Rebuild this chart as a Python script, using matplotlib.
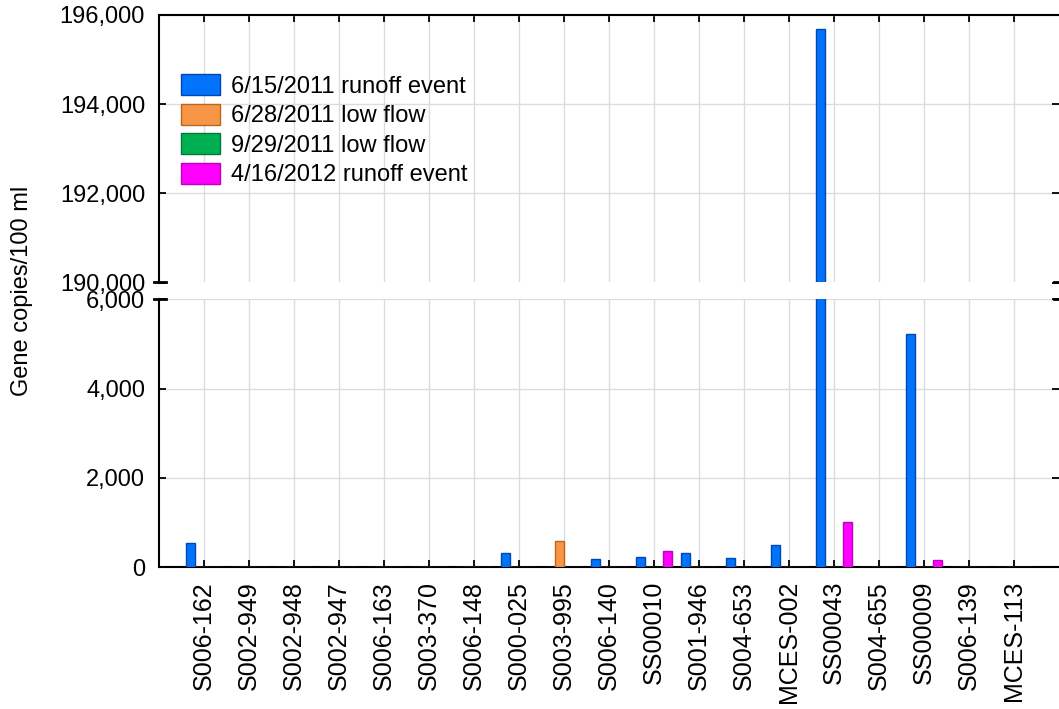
import numpy as np
import matplotlib
matplotlib.use("Agg")
import matplotlib.pyplot as plt
from matplotlib.ticker import FuncFormatter

plt.rcParams['font.family'] = ['Liberation Sans', 'DejaVu Sans']

sites = ['S006-162', 'S002-949', 'S002-948', 'S002-947', 'S006-163', 'S003-370',
         'S006-148', 'S000-025', 'S003-995', 'S006-140', 'SS00010', 'S001-946',
         'S004-653', 'MCES-002', 'SS00043', 'S004-655', 'SS00009', 'S006-139',
         'MCES-113']
runoff_2011 = [530, 0, 0, 0, 0, 0, 0, 310, 0, 170, 220, 315, 195, 490, 195690, 0, 5230, 0, 0]
lowflow_jun = [0, 0, 0, 0, 0, 0, 0, 0, 580, 0, 0, 0, 0, 0, 0, 0, 0, 0, 0]
lowflow_sep = [0, 0, 0, 0, 0, 0, 0, 0, 0, 0, 0, 0, 0, 0, 0, 0, 0, 0, 0]
runoff_2012 = [0, 0, 0, 0, 0, 0, 0, 0, 0, 0, 360, 0, 0, 0, 1000, 0, 165, 0, 0]

series = [
    ('6/15/2011 runoff event', runoff_2011, '#0073fa', '#0046b4'),
    ('6/28/2011 low flow', lowflow_jun, '#f79646', '#c0631c'),
    ('9/29/2011 low flow', lowflow_sep, '#00b050', '#00793a'),
    ('4/16/2012 runoff event', runoff_2012, '#ff00ff', '#c000c0'),
]

W, H = 1059, 709
fig = plt.figure(figsize=(W / 100, H / 100), dpi=100)
left, right = 159 / W, 1.0
ax_top = fig.add_axes([left, 1 - 282.5 / H, right - left, (282.5 - 15) / H])
ax_bot = fig.add_axes([left, 1 - 567 / H, right - left, (567 - 299.3) / H])

x = np.arange(len(sites))
bw = 0.2
fs = 17

for ax in (ax_top, ax_bot):
    for i, (name, vals, fc, ec) in enumerate(series):
        ax.bar(x + (i - 1.5) * bw, vals, bw, color=fc, edgecolor=ec,
               linewidth=1.0, label=name, zorder=3)
    ax.set_xlim(-1, len(sites))
    ax.set_xticks(x)
    ax.grid(True, color='#dcdcdc', linewidth=1.0, zorder=0)
    ax.set_axisbelow(True)
    ax.spines['right'].set_visible(False)
    for s in ax.spines.values():
        s.set_linewidth(1.5)
    ax.tick_params(direction='in', length=5, width=1.3, labelsize=fs, pad=10)
    ax.yaxis.set_major_formatter(FuncFormatter(lambda v, p: f'{v:,.0f}'))

ax_top.set_ylim(190000, 196000)
ax_top.set_yticks(np.arange(190000, 196001, 2000))
ax_top.spines['bottom'].set_visible(False)
ax_top.tick_params(axis='x', top=True, bottom=False, labelbottom=False)
ax_top.tick_params(axis='y', right=True)

ax_bot.set_ylim(0, 6000)
ax_bot.set_yticks(np.arange(0, 6001, 2000))
ax_bot.spines['top'].set_visible(False)
ax_bot.tick_params(axis='x', top=False, bottom=True)
ax_bot.tick_params(axis='y', right=True)
ax_bot.set_xticklabels(sites, rotation=90, fontsize=18)

# break marks across the left axis line and at the right edge
bx = 5 / (W * (right - left))
for ax, yy in ((ax_top, 0), (ax_bot, 1)):
    ax.plot([-bx, 1.3 * bx], [yy, yy], color='black', linewidth=2,
            transform=ax.transAxes, clip_on=False, zorder=5)
    ax.plot([1 - bx, 1], [yy, yy], color='black', linewidth=2,
            transform=ax.transAxes, clip_on=False, zorder=5)

ax_top.legend(loc='upper left', bbox_to_anchor=(181 / W, 1 - 74 / H),
              bbox_transform=fig.transFigure, frameon=False, fontsize=fs,
              borderpad=0, borderaxespad=0, handlelength=1.65,
              handleheight=1.0, labelspacing=0.25, handletextpad=0.45)

fig.text(22 / W, 1 - 291 / H, 'Gene copies/100 ml', rotation=90,
         ha='center', va='center', fontsize=fs)

fig.savefig('out.png', dpi=100)
